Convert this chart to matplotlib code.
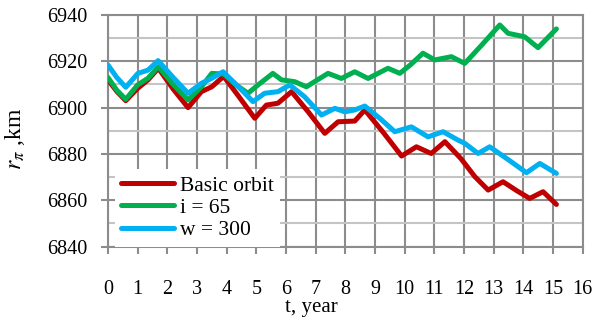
import matplotlib
matplotlib.use("Agg")
import matplotlib.pyplot as plt
from matplotlib.ticker import MultipleLocator

plt.rcParams['font.family'] = ['Liberation Serif', 'DejaVu Serif']
plt.rcParams['mathtext.fontset'] = 'stix'

# Basic orbit
t_basic = [0.0, 0.3, 0.6, 1.0, 1.35, 1.7, 2.2, 2.7, 3.15, 3.5, 3.9, 4.4, 4.95, 5.34, 5.73,
           6.19, 6.75, 7.31, 7.76, 8.32, 8.66, 9.3, 9.9, 10.4, 10.9, 11.36, 11.9, 12.37,
           12.82, 13.32, 13.8, 14.22, 14.67, 15.12]
r_basic = [6912, 6907, 6903, 6908.3, 6912, 6917, 6908, 6900, 6906.9, 6909, 6913.5, 6905, 6895.4,
           6901.1, 6901.9, 6906.9, 6898.2, 6888.9, 6893.9, 6894.2, 6899, 6889, 6879.1, 6883.1,
           6880.2, 6885.3, 6878, 6870.2, 6864.4, 6868, 6864, 6860.8, 6863.7, 6858.2]

# i = 65
t_i65 = [0.0, 0.3, 0.6, 1.0, 1.35, 1.7, 2.2, 2.7, 3.15, 3.5, 3.9, 4.3, 4.72, 5.06, 5.56,
         5.85, 6.3, 6.69, 7.0, 7.42, 7.87, 8.32, 8.77, 9.44, 9.84, 10.2, 10.62, 11.02, 11.58,
         12.03, 12.6, 13.21, 13.49, 14.05, 14.5, 15.12]
r_i65 = [6913, 6907.5, 6903.6, 6909.8, 6912.7, 6917.7, 6910, 6903.3, 6909, 6914.8, 6914.5,
         6910, 6906.2, 6909.8, 6914.8, 6912, 6911.2, 6909, 6911.5, 6914.8, 6912.6, 6915.5,
         6912.6, 6917, 6914.8, 6918.5, 6923.5, 6920.6, 6922, 6919.1, 6927, 6935.7, 6932.1,
         6930.6, 6925.9, 6934]

# w = 300
t_w300 = [0.0, 0.3, 0.6, 1.01, 1.35, 1.69, 2.2, 2.7, 3.15, 3.49, 3.88, 4.4, 4.89, 5.28, 5.73,
          6.13, 6.63, 7.2, 7.65, 7.98, 8.32, 8.66, 9.2, 9.67, 10.23, 10.79, 11.3, 11.8, 12.03,
          12.48, 12.87, 13.5, 14.11, 14.56, 15.12]
r_w300 = [6918.4, 6913, 6908.8, 6914.8, 6916.2, 6920.3, 6913, 6906.2, 6910.5, 6912.6, 6915.5,
          6909, 6902.6, 6906.2, 6906.9, 6909.8, 6904.7, 6896.8, 6899.7, 6898.2, 6899, 6900.7,
          6895, 6889.6, 6891.7, 6887.4, 6889.6, 6886, 6884.6, 6880.2, 6883.1, 6877.5, 6871.9,
          6875.9, 6871.6]

series = [
    (t_basic, r_basic, "Basic orbit", "#C00000"),
    (t_i65, r_i65, "i = 65", "#00B050"),
    (t_w300, r_w300, "w = 300", "#00B0F0"),
]

fig = plt.figure(figsize=(6.09, 3.22), dpi=100)
ax = fig.add_axes([0.1773, 0.2342, 0.9565 - 0.1773, 0.9534 - 0.2342])

for t, r, lab, col in series:
    ax.plot(t, r, color=col, lw=3.6, label=lab, solid_joinstyle='round',
            solid_capstyle='round', zorder=3)

ax.set_xlim(0, 16)
ax.set_ylim(6840, 6940)
ax.xaxis.set_major_locator(MultipleLocator(1))
ax.yaxis.set_major_locator(MultipleLocator(20))
ax.yaxis.set_minor_locator(MultipleLocator(10))

ax.grid(which='major', axis='both', color='#8c8c8c', lw=1.5, zorder=1)
ax.grid(which='minor', axis='y', color='#c4c4c4', lw=1.5, zorder=1)
ax.tick_params(which='minor', left=False)
ax.tick_params(axis='both', which='major', direction='out', color='#8c8c8c',
               width=1.5, length=5, labelsize=14.5)
ax.tick_params(axis='y', pad=10)
ax.tick_params(axis='x', pad=19)
for s in ax.spines.values():
    s.set_color('#8c8c8c')
    s.set_linewidth(1.5)

ax.set_xlabel("t, year", fontsize=15)
ax.xaxis.set_label_coords(0.429, -0.222)
ax.xaxis.label.set_va('top')
ax.set_ylabel(r"$r_{\pi}$ ,km", fontsize=17)
ax.yaxis.set_label_coords(-0.17, 0.465)

leg = ax.legend(loc='lower left', bbox_to_anchor=(7 / 474, 0.0), fontsize=15.5,
                frameon=True, fancybox=False, edgecolor='none', framealpha=1,
                borderaxespad=0.0, handlelength=2.45, handletextpad=0.25,
                labelspacing=0.1, borderpad=0.3)
leg.get_frame().set_linewidth(0)

fig.savefig("out.png", dpi=100)
